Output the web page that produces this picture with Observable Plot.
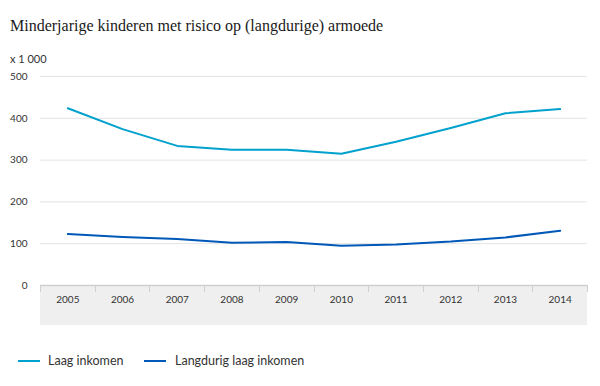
<!DOCTYPE html>
<html>
<head>
<meta charset="utf-8">
<script src="https://cdn.jsdelivr.net/npm/d3@7"></script>
<script src="https://cdn.jsdelivr.net/npm/@observablehq/plot@0.6"></script>
<style>
  html, body { margin: 0; padding: 0; background: #fff; }
  body { width: 600px; height: 386px; position: relative; overflow: hidden; font-family: Lato, "Open Sans", sans-serif; color: #333; }
  #title { position: absolute; left: 10px; top: 16px; font-family: "Liberation Serif", serif; font-size: 16px; line-height: 20px; color: #1a1a1a; white-space: nowrap; }
  #unit { position: absolute; left: 10px; top: 52px; font-size: 11px; line-height: 14px; color: #333; }
  #chart { position: absolute; left: 0; top: 66px; }
  #legend { position: absolute; left: 0; top: 352px; font-size: 12.5px; line-height: 18px; color: #333; white-space: nowrap; }
  #legend span.item { position: absolute; top: 0; }
  #legend svg { position: absolute; top: 0; }
</style>
</head>
<body>
<div id="title">Minderjarige kinderen met risico op (langdurige) armoede</div>
<div id="unit">x 1 000</div>
<div id="chart"></div>
<div id="legend"></div>
<script>
const years = [2005, 2006, 2007, 2008, 2009, 2010, 2011, 2012, 2013, 2014];
const laagInkomen = [424, 374, 334, 325, 325, 315, 344, 377, 412, 422];
const langdurigLaagInkomen = [123, 116, 111, 102, 104, 95, 98, 105, 115, 131];
const seriesNames = ["Laag inkomen", "Langdurig laag inkomen"];
const seriesColors = ["#00a1cd", "#0058b8"];
const yTicks = [0, 100, 200, 300, 400, 500];

const data = [];
years.forEach((yr, i) => {
  data.push({year: yr, value: laagInkomen[i], series: seriesNames[0]});
  data.push({year: yr, value: langdurigLaagInkomen[i], series: seriesNames[1]});
});

const W = 600, H = 270;
const plot = Plot.plot({
  width: W,
  height: H,
  marginLeft: 40,
  marginRight: 13,
  marginTop: 10,
  marginBottom: 51,
  style: {fontFamily: "Lato, 'Open Sans', sans-serif", color: "#333", background: "transparent"},
  x: {type: "linear", domain: [years[0] - 0.5, years[years.length - 1] + 0.5]},
  y: {domain: [0, 500]},
  color: {domain: seriesNames, range: seriesColors},
  marks: [
    Plot.gridY(yTicks.filter(d => d > 0), {stroke: "#e3e3e3", strokeOpacity: 1, strokeWidth: 1}),
    Plot.axisY(yTicks, {tickSize: 0, tickPadding: 13, fontSize: 10, label: null, textAnchor: "end"}),
    Plot.axisX(years, {tickSize: 0, tickPadding: 10, fontSize: 10, label: null, tickFormat: d => String(d)}),
    Plot.line(data, {x: "year", y: "value", z: "series", stroke: "series", strokeWidth: 2, curve: "linear"})
  ]
});

document.getElementById("chart").appendChild(plot);

// Gray category band under the x axis, built from the plot's own scales
const xs = plot.scale("x"), ys = plot.scale("y");
const xMap = v => xs.range[0] + (v - xs.domain[0]) / (xs.domain[1] - xs.domain[0]) * (xs.range[1] - xs.range[0]);
const yMap = v => ys.range[0] + (v - ys.domain[0]) / (ys.domain[1] - ys.domain[0]) * (ys.range[1] - ys.range[0]);
const svg = d3.select(plot);
const x0 = xMap(xs.domain[0]), x1 = xMap(xs.domain[1]), yb = yMap(0);
const g = svg.insert("g", ":first-child");
g.append("rect").attr("x", x0).attr("y", yb).attr("width", x1 - x0).attr("height", 40).attr("fill", "#efefef");
g.append("line").attr("x1", x0).attr("x2", x1).attr("y1", yb + 0.5).attr("y2", yb + 0.5).attr("stroke", "#cfcfcf").attr("stroke-width", 1.5);
const bounds = years.map(y => y - 0.5).concat([years[years.length - 1] + 0.5]);
bounds.forEach(b => {
  const bx = Math.round(xMap(b)) + 0.5;
  g.append("line").attr("x1", bx).attr("x2", bx).attr("y1", yb).attr("y2", yb + 7).attr("stroke", "#cfcfcf").attr("stroke-width", 1);
});

// Legend
const legend = document.getElementById("legend");
const legendX = [[18, 48], [144, 175]];
seriesNames.forEach((name, i) => {
  const sw = document.createElementNS("http://www.w3.org/2000/svg", "svg");
  sw.setAttribute("width", 24); sw.setAttribute("height", 18);
  sw.style.left = legendX[i][0] + "px";
  sw.innerHTML = `<line x1="0" x2="22" y1="9" y2="9" stroke="${seriesColors[i]}" stroke-width="2"/>`;
  legend.appendChild(sw);
  const t = document.createElement("span");
  t.className = "item";
  t.style.left = legendX[i][1] + "px";
  t.textContent = name;
  legend.appendChild(t);
});
</script>
</body>
</html>
